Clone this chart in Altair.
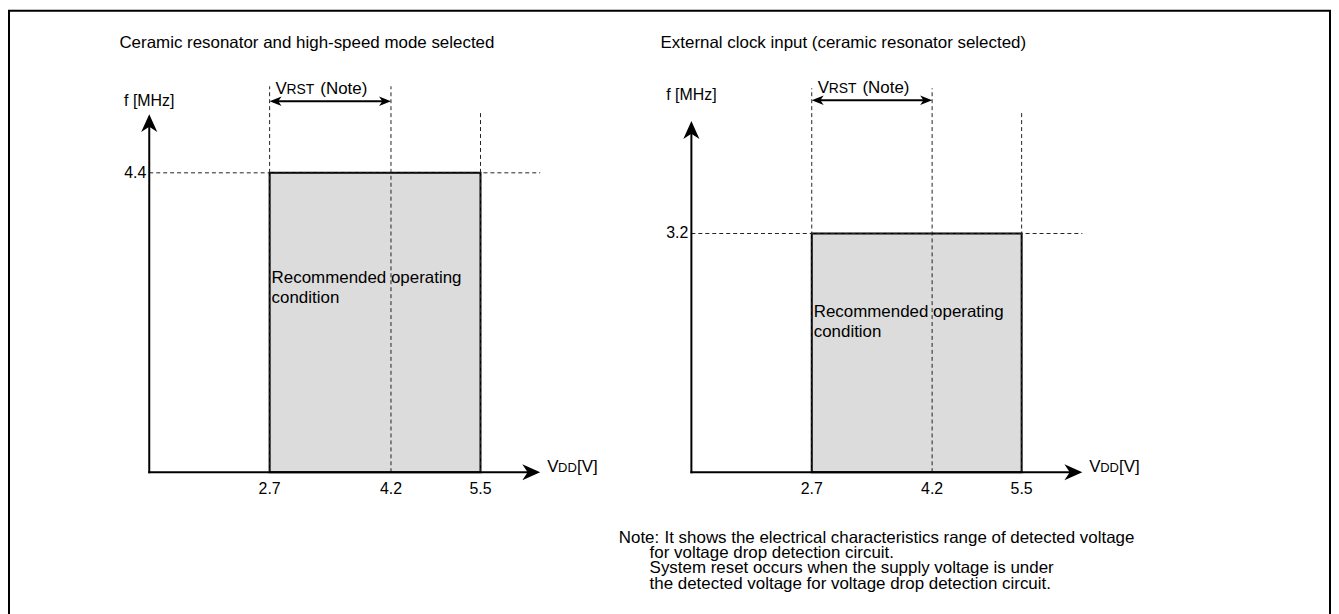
import altair as alt
import pandas as pd

FONT = "Liberation Sans"
INK = "#000000"
DASH = "#222222"
FILL = "#dcdcdc"

# ---------------- data ----------------
panel_titles = [
    "Ceramic resonator and high-speed mode selected",
    "External clock input (ceramic resonator selected)",
]
v_low = [2.7, 2.7]
v_rst = [4.2, 4.2]
v_high = [5.5, 5.5]
f_max = [4.4, 3.2]
f_tick_labels = ["4.4", "3.2"]
v_tick_values = [2.7, 4.2, 5.5]
v_tick_labels = ["2.7", "4.2", "5.5"]
region_lines = ["Recommended operating", "condition"]
y_axis_label = "f [MHz]"
x_axis_label = ["V", "DD", "[V]"]
rst_label = ["V", "RST", "(Note)"]
note_head = "Note:"
note_first = "It shows the electrical characteristics range of detected voltage"
note_lines = [
    "for voltage drop detection circuit.",
    "System reset occurs when the supply voltage is under",
    "the detected voltage for voltage drop detection circuit.",
]

# ---------------- layout (pixels, chart coordinates) ----------------
LAYOUT = [
    dict(x_range=[141, 262, 384, 474], y_range=[464, 163], x_tip=534, y_tip=104,
         title_x=111, title_y=33, f_label_y=91, dash_top=76, dash_top_hi=103,
         rst_y=91, rst_text_y=84, region_y=274),
    dict(x_range=[686, 807, 928, 1018], y_range=[464, 224], x_tip=1079, y_tip=111,
         title_x=655, title_y=33, f_label_y=85, dash_top=78, dash_top_hi=101,
         rst_y=90, rst_text_y=83, region_y=308),
]
NOTE = dict(head_x=613, first_x=659, x=644, y=535, line_height=15.4)

UP = "M0,-1L0.9,1L0,0.4L-0.9,1Z"
RIGHT = "M1,0L-1,-0.9L-0.4,0L-1,0.9Z"
S_LEFT = "M-1,0L1,-0.8L0.45,0L1,0.8Z"
S_RIGHT = "M1,0L-1,-0.8L-0.45,0L-1,0.8Z"

BIG = 17
SMALL = 13
TICK = 16
TXT = dict(font=FONT, color=INK, fontSize=BIG)
TXT_T = dict(font=FONT, color=INK, fontSize=TICK)
TXT_S = dict(font=FONT, color=INK, fontSize=SMALL)


def panel(i):
    L = LAYOUT[i]
    xs = alt.Scale(domain=[0, v_low[i], v_rst[i], v_high[i]], range=L["x_range"],
                   nice=False, zero=False)
    ys = alt.Scale(domain=[0, f_max[i]], range=L["y_range"], nice=False, zero=False)

    def X(f):
        return alt.X(f, type="quantitative", scale=xs, axis=None)

    def Y(f):
        return alt.Y(f, type="quantitative", scale=ys, axis=None)

    base = pd.DataFrame({
        "v0": [0.0], "f0": [0.0], "lo": [v_low[i]], "rst": [v_rst[i]],
        "hi": [v_high[i]], "fmax": [f_max[i]], "flab": [f_tick_labels[i]],
        "title": [panel_titles[i]],
    })
    b = alt.Chart(base)
    vlines = alt.Chart(pd.DataFrame({"v": [v_low[i], v_rst[i]], "f0": [0.0, 0.0]}))
    ticks = alt.Chart(pd.DataFrame({"v": v_tick_values, "label": v_tick_labels,
                                    "f0": [0.0] * len(v_tick_values)}))
    arrow = dict(filled=True, color=INK, opacity=1, strokeWidth=0)

    layers = [
        b.mark_rect(fill=FILL, stroke=INK, strokeWidth=2).encode(
            x=X("lo"), x2="hi", y=Y("f0"), y2="fmax"),
        b.mark_rule(color=DASH, strokeWidth=1, strokeDash=[4, 3]).encode(
            x=X("v0"), x2=alt.value(L["x_tip"]), y=Y("fmax")),
        vlines.mark_rule(color=DASH, strokeWidth=1, strokeDash=[4, 3]).encode(
            x=X("v"), y=Y("f0"), y2=alt.value(L["dash_top"])),
        b.mark_rule(color=DASH, strokeWidth=1, strokeDash=[4, 3]).encode(
            x=X("hi"), y=Y("f0"), y2=alt.value(L["dash_top_hi"])),
        # axes
        b.mark_rule(color=INK, strokeWidth=2, strokeCap="square").encode(
            x=X("v0"), y=Y("f0"), y2=alt.value(L["y_tip"] + 9)),
        b.mark_rule(color=INK, strokeWidth=2, strokeCap="square").encode(
            x=X("v0"), x2=alt.value(L["x_tip"] - 9), y=Y("f0")),
        b.mark_point(shape=UP, size=324, **arrow).encode(
            x=X("v0"), y=alt.value(L["y_tip"] + 9)),
        b.mark_point(shape=RIGHT, size=324, **arrow).encode(
            x=alt.value(L["x_tip"] - 9), y=Y("f0")),
        # VRST double arrow
        b.mark_rule(color=INK, strokeWidth=2, xOffset=4, x2Offset=-4).encode(
            x=X("lo"), x2="rst", y=alt.value(L["rst_y"])),
        b.mark_point(shape=S_LEFT, size=144, xOffset=6, **arrow).encode(
            x=X("lo"), y=alt.value(L["rst_y"])),
        b.mark_point(shape=S_RIGHT, size=144, xOffset=-6, **arrow).encode(
            x=X("rst"), y=alt.value(L["rst_y"])),
        # texts
        b.mark_text(align="left", baseline="middle", **TXT).encode(
            x=alt.value(L["title_x"]), y=alt.value(L["title_y"]), text="title:N"),
        b.mark_text(align="center", baseline="middle", **TXT_T).encode(
            x=X("v0"), y=alt.value(L["f_label_y"]), text=alt.value(y_axis_label)),
        b.mark_text(align="right", baseline="middle", dx=-3, **TXT_T).encode(
            x=X("v0"), y=Y("fmax"), text="flab:N"),
        ticks.mark_text(align="center", baseline="middle", dy=17, **TXT_T).encode(
            x=X("v"), y=Y("f0"), text="label:N"),
        b.mark_text(align="left", baseline="alphabetic", dx=0, **TXT).encode(
            x=alt.value(L["x_tip"] + 7), y=Y("f0"), text=alt.value(x_axis_label[0])),
        b.mark_text(align="left", baseline="alphabetic", dx=11, **TXT_S).encode(
            x=alt.value(L["x_tip"] + 7), y=Y("f0"), text=alt.value(x_axis_label[1])),
        b.mark_text(align="left", baseline="alphabetic", dx=30, **TXT).encode(
            x=alt.value(L["x_tip"] + 7), y=Y("f0"), text=alt.value(x_axis_label[2])),
        b.mark_text(align="left", baseline="alphabetic", dx=6, **TXT).encode(
            x=X("lo"), y=alt.value(L["rst_text_y"]), text=alt.value(rst_label[0])),
        b.mark_text(align="left", baseline="alphabetic", dx=17, font=FONT, color=INK, fontSize=14).encode(
            x=X("lo"), y=alt.value(L["rst_text_y"]), text=alt.value(rst_label[1])),
        b.mark_text(align="left", baseline="alphabetic", dx=51, **TXT).encode(
            x=X("lo"), y=alt.value(L["rst_text_y"]), text=alt.value(rst_label[2])),
        b.mark_text(align="left", baseline="alphabetic", dx=2, lineBreak="\n", lineHeight=20, **TXT).encode(
            x=X("lo"), y=alt.value(L["region_y"]), text=alt.value("\n".join(region_lines))),
    ]
    return alt.layer(*layers)


one = pd.DataFrame({"k": [0]})
note = alt.layer(
    alt.Chart(one).mark_text(align="left", baseline="alphabetic", **TXT).encode(
        x=alt.value(NOTE["head_x"]), y=alt.value(NOTE["y"]), text=alt.value(note_head)),
    alt.Chart(one).mark_text(align="left", baseline="alphabetic", **TXT).encode(
        x=alt.value(NOTE["first_x"]), y=alt.value(NOTE["y"]), text=alt.value(note_first)),
    alt.Chart(one).mark_text(align="left", baseline="alphabetic", lineBreak="\n",
                             lineHeight=NOTE["line_height"], **TXT).encode(
        x=alt.value(NOTE["x"]), y=alt.value(NOTE["y"] + NOTE["line_height"]),
        text=alt.value("\n".join(note_lines))),
)

chart = (
    alt.layer(panel(0), panel(1), note)
    .resolve_scale(x="independent", y="independent")
    .properties(width=1328, height=640, autosize="none",
                padding={"left": 1, "top": 1, "right": 1, "bottom": 0},
                background="white")
    .configure_view(stroke=INK, strokeWidth=2)
)

chart.save("out.html", embed_options={"renderer": "svg", "actions": False})
